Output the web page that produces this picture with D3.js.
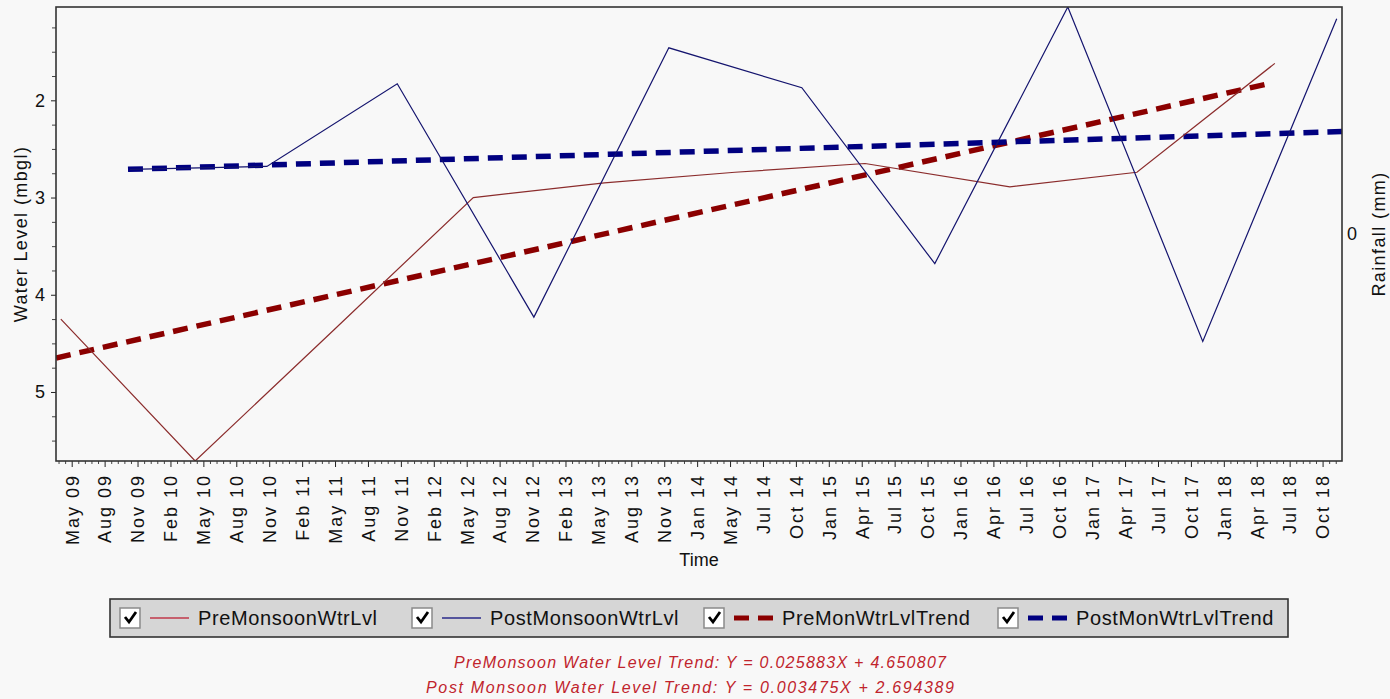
<!DOCTYPE html>
<html>
<head>
<meta charset="utf-8">
<script src="https://cdn.jsdelivr.net/npm/d3@7"></script>
<style>
  html, body { margin: 0; padding: 0; background: #f8f8f8; }
  svg { display: block; font-family: "Liberation Sans", Arial, sans-serif; }
</style>
</head>
<body>
<div id="chart"></div>
<script>
// tick labels along the time axis (one per major tick)
var tickLabels = ["May 09","Aug 09","Nov 09","Feb 10","May 10","Aug 10","Nov 10","Feb 11","May 11","Aug 11",
  "Nov 11","Feb 12","May 12","Aug 12","Nov 12","Feb 13","May 13","Aug 13","Nov 13","Jan 14",
  "May 14","Jul 14","Oct 14","Jan 15","Apr 15","Jul 15","Oct 15","Jan 16","Apr 16","Jul 16",
  "Oct 16","Jan 17","Apr 17","Jul 17","Oct 17","Jan 18","Apr 18","Jul 18","Oct 18"];

// pre monsoon water level (x in tick units, y in mbgl)
var preX = [-0.33, 3.75, 7.97, 12.2, 16.18, 20.15, 24.1, 28.5, 32.36, 36.55];
var preY = [4.25, 5.71, 4.36, 3.00, 2.85, 2.74, 2.65, 2.89, 2.74, 1.62];

// post monsoon water level
var postX = [1.77, 5.93, 9.89, 14.04, 18.14, 22.18, 26.22, 30.26, 34.36, 38.43];
var postY = [2.71, 2.68, 1.83, 4.23, 1.46, 1.87, 3.68, 1.04, 4.48, 1.16];

// trend lines (end points)
var preTrendX = [-0.477, 36.34], preTrendY = [4.65, 1.83];
var postTrendX = [1.71, 38.59], postTrendY = [2.71, 2.32];

var yTicks = [2, 3, 4, 5];
var trendTexts = ["PreMonsoon Water Level Trend: Y = 0.025883X + 4.650807",
                  "Post Monsoon Water Level Trend: Y = 0.003475X + 2.694389"];

var series = [
  {name: "PreMonsoonWtrLvl", color: "#8b2c2c", legendColor: "#c0394a", width: 1.2, dash: null},
  {name: "PostMonsoonWtrLvl", color: "#14146e", legendColor: "#2a2a8a", width: 1.2, dash: null},
  {name: "PreMonWtrLvlTrend", color: "#8b0000", legendColor: "#8b0000", width: 5.5, dash: "15,9"},
  {name: "PostMonWtrLvlTrend", color: "#000080", legendColor: "#000080", width: 5.5, dash: "15,9"}
];

var width = 1390, height = 699;
var plot = {left: 56, right: 1342, top: 7, bottom: 461};

var svg = d3.select("#chart").append("svg")
  .attr("width", width)
  .attr("height", height);

svg.append("rect").attr("width", width).attr("height", height).attr("fill", "#f8f8f8");

var x = d3.scaleLinear().domain([-0.477, 38.59]).range([plot.left, plot.right]);
var y = d3.scaleLinear().domain([1.04, 5.71]).range([plot.top, plot.bottom]);
var yRight = d3.scaleLinear().domain([1, -1]).range([plot.top, plot.bottom]);

svg.append("clipPath").attr("id", "clip")
  .append("rect")
  .attr("x", plot.left).attr("y", plot.top)
  .attr("width", plot.right - plot.left).attr("height", plot.bottom - plot.top);

var g = svg.append("g").attr("clip-path", "url(#clip)");

var line = d3.line().x(function(d) { return x(d[0]); }).y(function(d) { return y(d[1]); });

function pairs(xs, ys) { return xs.map(function(v, i) { return [v, ys[i]]; }); }

var lineData = [pairs(preX, preY), pairs(postX, postY), pairs(preTrendX, preTrendY), pairs(postTrendX, postTrendY)];

// trends under the thin lines
[2, 3, 0, 1].forEach(function(i) {
  g.append("path")
    .attr("d", line(lineData[i]))
    .attr("fill", "none")
    .attr("stroke", series[i].color)
    .attr("stroke-width", series[i].width)
    .attr("stroke-dasharray", series[i].dash)
    .attr("stroke-linejoin", "miter");
});

// axes
var fontSize = "18px";

var xAxis = svg.append("g")
  .attr("transform", "translate(0," + plot.bottom + ")")
  .call(d3.axisBottom(x).tickValues(d3.range(39)).tickFormat(function(i) { return tickLabels[i]; }).tickSize(6));
xAxis.select(".domain").remove();
xAxis.selectAll("line").attr("stroke", "#222");
xAxis.selectAll("text")
  .attr("transform", "rotate(-90)")
  .attr("text-anchor", "end")
  .attr("x", -13)
  .attr("y", 0)
  .attr("dy", "0.35em")
  .style("font-size", fontSize)
  .style("letter-spacing", "2px")
  .attr("fill", "#111");

var minorX = [];
for (var i = -2; i <= 193; i++) { if (i % 5 !== 0) minorX.push(i / 5); }
var xMinor = svg.append("g")
  .attr("transform", "translate(0," + plot.bottom + ")")
  .call(d3.axisBottom(x).tickValues(minorX.filter(function(v) { return v > -0.477 && v < 38.59; })).tickFormat("").tickSize(3));
xMinor.select(".domain").remove();
xMinor.selectAll("line").attr("stroke", "#444");

var yAxis = svg.append("g")
  .attr("transform", "translate(" + plot.left + ",0)")
  .call(d3.axisLeft(y).tickValues(yTicks).tickFormat(d3.format("d")).tickSize(5).tickPadding(6));
yAxis.select(".domain").remove();
yAxis.selectAll("line").attr("stroke", "#222");
yAxis.selectAll("text").style("font-size", fontSize).attr("fill", "#111");

var yMinor = svg.append("g")
  .attr("transform", "translate(" + plot.left + ",0)")
  .call(d3.axisLeft(y).tickValues(d3.range(1.25, 5.71, 0.25).filter(function(v) { return v % 1 !== 0; })).tickFormat("").tickSize(4));
yMinor.select(".domain").remove();
yMinor.selectAll("line").attr("stroke", "#444");

var yRightAxis = svg.append("g")
  .attr("transform", "translate(" + plot.right + ",0)")
  .call(d3.axisRight(yRight).tickValues([0]).tickFormat(d3.format("d")).tickSize(0).tickPadding(5));
yRightAxis.select(".domain").remove();
yRightAxis.selectAll("text").style("font-size", fontSize).attr("fill", "#111");

// plot frame
svg.append("rect")
  .attr("x", plot.left).attr("y", plot.top)
  .attr("width", plot.right - plot.left).attr("height", plot.bottom - plot.top)
  .attr("fill", "none").attr("stroke", "#333").attr("stroke-width", 1.6);

// axis titles
svg.append("text")
  .attr("transform", "translate(21," + ((plot.top + plot.bottom) / 2) + ") rotate(-90)")
  .attr("text-anchor", "middle")
  .attr("dy", "0.35em")
  .style("font-size", fontSize)
  .style("letter-spacing", "1.4px")
  .attr("fill", "#111")
  .text("Water Level (mbgl)");

svg.append("text")
  .attr("transform", "translate(1379," + ((plot.top + plot.bottom) / 2) + ") rotate(-90)")
  .attr("text-anchor", "middle")
  .attr("dy", "0.35em")
  .style("font-size", fontSize)
  .style("letter-spacing", "1.4px")
  .attr("fill", "#111")
  .text("Rainfall (mm)");

svg.append("text")
  .attr("x", (plot.left + plot.right) / 2)
  .attr("y", 566)
  .attr("text-anchor", "middle")
  .style("font-size", fontSize)
  .attr("fill", "#111")
  .text("Time");

// legend
var legend = svg.append("g").attr("transform", "translate(110,599)");
legend.append("rect")
  .attr("width", 1178).attr("height", 38)
  .attr("fill", "#d6d6d6").attr("stroke", "#333").attr("stroke-width", 1.6);

var legendCols = [10, 302, 594, 888];

var item = legend.selectAll(".item")
  .data(series)
  .enter().append("g")
  .attr("class", "item")
  .attr("transform", function(d, i) { return "translate(" + legendCols[i] + ",0)"; });

item.append("rect")
  .attr("x", 0).attr("y", 9).attr("width", 20).attr("height", 20)
  .attr("fill", "#fff").attr("stroke", "#8a8a8a").attr("stroke-width", 1.5);
item.append("path")
  .attr("d", "M5,18 L9,23 L16,13")
  .attr("fill", "none").attr("stroke", "#000").attr("stroke-width", 2.8);
item.append("line")
  .attr("x1", 30).attr("x2", 69).attr("y1", 19).attr("y2", 19)
  .attr("stroke", function(d) { return d.legendColor; })
  .attr("stroke-width", function(d) { return d.dash ? 5 : 1.4; })
  .attr("stroke-dasharray", function(d) { return d.dash ? "15,9" : null; });
item.append("text")
  .attr("x", 78).attr("y", 19).attr("dy", "0.36em")
  .style("font-size", "20px")
  .style("letter-spacing", "0.6px")
  .attr("fill", "#111")
  .text(function(d) { return d.name; });

// trend equations
svg.selectAll(".trend")
  .data(trendTexts)
  .enter().append("text")
  .attr("class", "trend")
  .attr("x", function(d, i) { return i === 0 ? 700 : 690; })
  .attr("y", function(d, i) { return 668 + i * 25; })
  .attr("text-anchor", "middle")
  .style("font-size", "16px")
  .style("font-style", "italic")
  .attr("fill", "#c0242c")
  .attr("textLength", function(d, i) { return i === 0 ? 492 : 528; })
  .attr("lengthAdjust", "spacing")
  .text(function(d) { return d; });
</script>
</body>
</html>
